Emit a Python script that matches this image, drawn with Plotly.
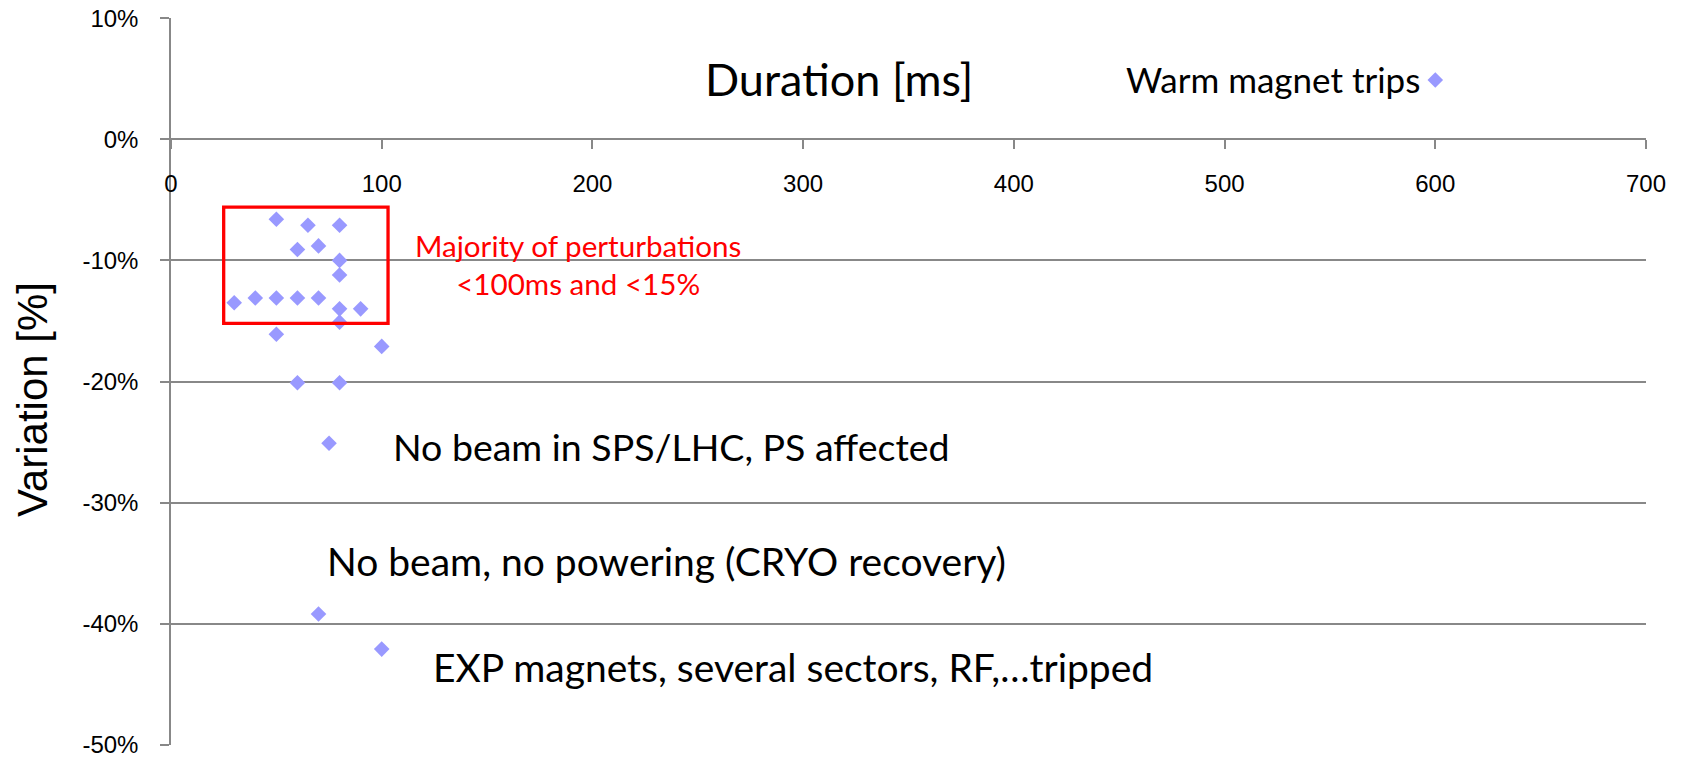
import plotly.graph_objects as go

# durations [ms] and variations [%]
duration_ms = [50, 65, 80, 60, 70, 80, 80, 30, 40, 50, 60, 70, 80, 90, 80, 50, 100, 60, 80, 75, 70, 100, 600]
variation_pct = [-6.6, -7.1, -7.1, -9.1, -8.8, -10.0, -11.2, -13.5, -13.1, -13.1, -13.1, -13.1,
                 -14.0, -14.0, -15.1, -16.1, -17.1, -20.1, -20.1, -25.1, -39.2, -42.1, 4.9]

x_ticks = [0, 100, 200, 300, 400, 500, 600, 700]
y_ticks = [10, 0, -10, -20, -30, -40, -50]
y_labels = ["10%", "0%", "-10%", "-20%", "-30%", "-40%", "-50%"]

# "majority" box: duration and variation bounds
box_x = [25, 103]
box_y = [-5.6, -15.2]

INK = "#000000"
GRID = "#888888"
MARKER = "#9999FF"
RED = "#FF0000"
TEXT_FONT = "Lato, Carlito, Calibri, sans-serif"
TICK_FONT = "Liberation Sans, Arial, sans-serif"

fig = go.Figure(go.Scatter(
    x=duration_ms, y=variation_pct, mode="markers",
    marker=dict(symbol="diamond", size=12, color=MARKER),
    hovertemplate="%{x} ms, %{y}%<extra></extra>",
))

fig.add_shape(type="rect", xref="x", yref="y",
              x0=box_x[0], x1=box_x[1], y0=box_y[0], y1=box_y[1],
              line=dict(color=RED, width=3.3))

notes = [
    dict(text="Duration [ms]", x=317, y=4.95, xanchor="center", size=45, color=INK),
    dict(text="Warm magnet trips", x=593.5, y=5.0, xanchor="right", size=35, color=INK),
    dict(text="Majority of perturbations<br><100ms and <15%", x=193, y=-10.3,
         xanchor="center", size=29.6, color=RED),
    dict(text="No beam in SPS/LHC, PS affected", x=104.5, y=-25.4, xanchor="left", size=37.5, color=INK),
    dict(text="No beam, no powering (CRYO recovery)", x=73, y=-34.8, xanchor="left", size=39, color=INK),
    dict(text="EXP magnets, several sectors, RF,…tripped", x=123.5, y=-43.6, xanchor="left", size=39, color=INK),
]
for n in notes:
    fig.add_annotation(x=n["x"], y=n["y"], xref="x", yref="y", text=n["text"],
                       xanchor=n["xanchor"], yanchor="middle", showarrow=False,
                       font=dict(family=TEXT_FONT, size=n["size"], color=n["color"]))

fig.add_annotation(text="Variation [%]", xref="paper", yref="paper", x=-0.094, y=0.475,
                   xanchor="center", yanchor="middle", textangle=-90, showarrow=False,
                   font=dict(family=TICK_FONT, size=42, color=INK))

# the page body adds an 8px margin, so the figure is sized to fill the rest of the window
fig.update_layout(
    width=1674, height=751,
    paper_bgcolor="white", plot_bgcolor="white",
    margin=dict(l=163, r=36, t=10, b=14, autoexpand=False),
    font=dict(family=TICK_FONT, size=24, color=INK),
    showlegend=False,
)
fig.update_xaxes(
    range=[0, 700], tickmode="array", tickvals=x_ticks,
    anchor="free", position=50.02 / 60.04, automargin=False,
    showgrid=False, zeroline=False,
    showline=True, linecolor=GRID, linewidth=1.5,
    ticks="outside", ticklen=9, tickcolor=GRID, tickwidth=1.5,
    ticklabelstandoff=14, ticklabeloverflow="allow",
    tickfont=dict(family=TICK_FONT, size=24, color=INK),
)
fig.update_yaxes(
    range=[-50.02, 10.02], tickmode="array", tickvals=y_ticks, ticktext=y_labels,
    automargin=False,
    showgrid=True, gridcolor=GRID, gridwidth=1.5, zeroline=False,
    showline=True, linecolor=GRID, linewidth=1.5,
    ticks="outside", ticklen=9, tickcolor=GRID, tickwidth=1.5,
    ticklabelstandoff=17, ticklabeloverflow="allow",
    tickfont=dict(family=TICK_FONT, size=24, color=INK),
)

fig.write_html("out.html")
